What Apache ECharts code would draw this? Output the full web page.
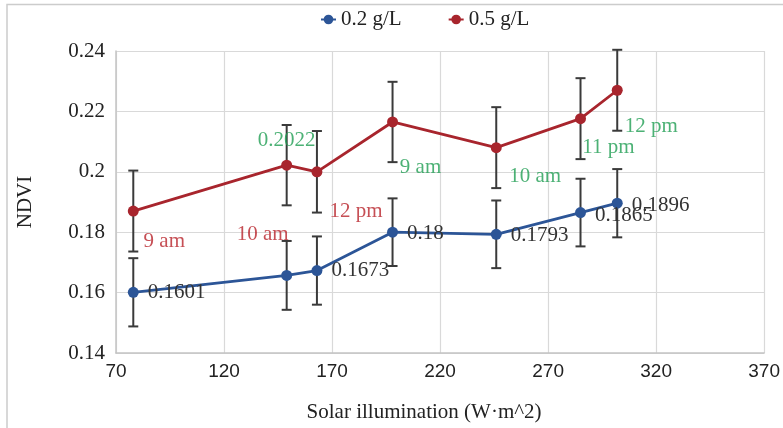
<!DOCTYPE html>
<html>
<head>
<meta charset="utf-8">
<style>html,body{margin:0;padding:0;background:#fff;}#c{width:783px;height:428px;}</style>
<script src="https://cdn.jsdelivr.net/npm/echarts@6/dist/echarts.min.js"></script>
</head>
<body>
<div id="c"></div>
<script>
// ---- data ----
const illumination = [78, 149, 163, 198, 246, 285, 302];
const ndvi02 = [0.1601, 0.1657, 0.1673, 0.18, 0.1793, 0.1865, 0.1896];
const ndvi05 = [0.187, 0.2022, 0.2, 0.2165, 0.208, 0.2176, 0.227];
const err02 = [0.0113, 0.0114, 0.0113, 0.0112, 0.0112, 0.0112, 0.0113];
const err05 = [0.0134, 0.0133, 0.0135, 0.0133, 0.0134, 0.0134, 0.0134];
const valueLabels02 = ['0.1601', '', '0.1673', '0.18', '0.1793', '0.1865', '0.1896'];
const redNotes05 = ['9 am', '10 am', '12 pm', '', '', '', ''];
const greenNotes05 = ['', '0.2022', '', '9 am', '10 am', '11 pm', '12 pm'];
const seriesNames = ['0.2 g/L', '0.5 g/L'];
const xTicks = {min: 70, max: 370, interval: 50};
const yTicks = {min: 0.14, max: 0.24, interval: 0.02};

// ---- layout / style (not data) ----
const SERIF = '"Liberation Serif","Times New Roman",serif';
const SANS = '"Liberation Sans",Arial,sans-serif';
const BLUE = '#2c5597', RED = '#a8252d', GREEN = '#1f9d52', LRED = '#b8232b';
const valueLabelDy = [0, 0, 0, 1, 1, 2.5, 2];
const redNoteOffset = [[31, 30], [-24, 69], [39, 40], [0,0], [0,0], [0,0], [0,0]];
const greenNoteOffset = [[0,0], [0, -25], [0,0], [28, 46], [39, 29], [28, 29], [34, 36]];

function pairs(ys) { return illumination.map((x, i) => [x, ys[i]]); }
function errData(ys, es) { return illumination.map((x, i) => [x, ys[i] - es[i], ys[i] + es[i]]); }

function errorRender(params, api) {
  const x = api.value(0);
  const lo = api.coord([x, api.value(1)]);
  const hi = api.coord([x, api.value(2)]);
  const w = 5;
  const st = {stroke: '#3a3a3a', lineWidth: 2};
  return {type: 'group', children: [
    {type: 'line', shape: {x1: lo[0], y1: lo[1], x2: hi[0], y2: hi[1]}, style: st},
    {type: 'line', shape: {x1: hi[0] - w, y1: hi[1], x2: hi[0] + w, y2: hi[1]}, style: st},
    {type: 'line', shape: {x1: lo[0] - w, y1: lo[1], x2: lo[0] + w, y2: lo[1]}, style: st}
  ]};
}

function noteSeries(ys, texts, offsets, color) {
  return {
    type: 'scatter', silent: true, z: 5, symbolSize: 1,
    itemStyle: {color: 'rgba(0,0,0,0)'},
    data: pairs(ys).map((p, i) => ({
      value: p,
      label: {show: texts[i] !== '', formatter: texts[i], position: 'inside', offset: offsets[i],
              color: color, fontFamily: SERIF, fontSize: 21}
    }))
  };
}

const chart = echarts.init(document.getElementById('c'), null, {renderer: 'canvas'});
chart.setOption({
  animation: false,
  backgroundColor: '#fff',
  graphic: [{type: 'rect', z: -10, shape: {x: 7, y: 4.5, width: 820, height: 500},
             style: {fill: 'none', stroke: '#cccccc', lineWidth: 1.5}}],
  grid: {left: 116, right: 16, top: 51, bottom: 75},
  legend: {
    data: seriesNames, left: 315, top: 4, itemGap: 46, itemWidth: 15, itemHeight: 12,
    textStyle: {fontFamily: SERIF, fontSize: 21, color: '#222'}
  },
  xAxis: {
    type: 'value', min: xTicks.min, max: xTicks.max, interval: xTicks.interval,
    name: 'Solar illumination (W·m^2)', nameLocation: 'middle', nameGap: 49,
    nameTextStyle: {fontFamily: SERIF, fontSize: 21, color: '#222', padding: [0, 32, 0, 0]},
    axisLine: {show: true, lineStyle: {color: '#c4c4c4', width: 1.5}},
    axisTick: {show: false},
    axisLabel: {fontFamily: SANS, fontSize: 19, color: '#222', margin: 9},
    splitLine: {show: true, lineStyle: {color: '#d9d9d9', width: 1.2}}
  },
  yAxis: {
    type: 'value', min: yTicks.min, max: yTicks.max, interval: yTicks.interval,
    name: 'NDVI', nameLocation: 'middle', nameGap: 80,
    nameTextStyle: {fontFamily: SERIF, fontSize: 21, color: '#222'},
    axisLine: {show: true, lineStyle: {color: '#c4c4c4', width: 1.5}},
    axisTick: {show: false},
    axisLabel: {fontFamily: SERIF, fontSize: 21, color: '#222', margin: 11,
                formatter: v => String(parseFloat(v.toFixed(2)))},
    splitLine: {show: true, lineStyle: {color: '#d9d9d9', width: 1.2}}
  },
  series: [
    {type: 'custom', name: 'err02', z: 1, silent: true, renderItem: errorRender, data: errData(ndvi02, err02)},
    {type: 'custom', name: 'err05', z: 1, silent: true, renderItem: errorRender, data: errData(ndvi05, err05)},
    {
      type: 'line', name: seriesNames[0], z: 3, symbol: 'circle', symbolSize: 11,
      lineStyle: {color: BLUE, width: 2.8}, itemStyle: {color: BLUE},
      data: pairs(ndvi02).map((p, i) => ({
        value: p,
        label: {show: valueLabels02[i] !== '', formatter: valueLabels02[i], position: 'right', distance: 9,
                offset: [0, valueLabelDy[i]], color: '#333', fontFamily: SERIF, fontSize: 21}
      }))
    },
    {
      type: 'line', name: seriesNames[1], z: 3, symbol: 'circle', symbolSize: 11,
      lineStyle: {color: RED, width: 2.8}, itemStyle: {color: RED},
      data: pairs(ndvi05)
    },
    noteSeries(ndvi05, redNotes05, redNoteOffset, LRED),
    noteSeries(ndvi05, greenNotes05, greenNoteOffset, GREEN)
  ]
});
</script>
</body>
</html>
